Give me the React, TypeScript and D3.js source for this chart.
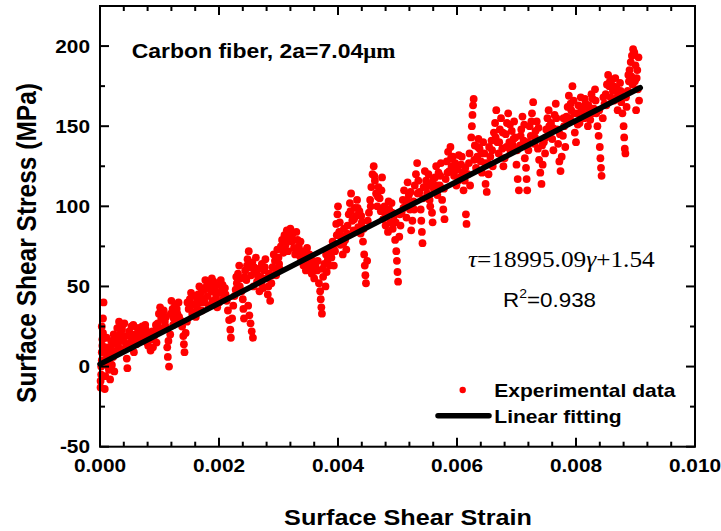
import React, { useEffect, useRef } from "react";
import * as d3 from "d3";

// experimental points: [strain in units of 1e-4, stress in MPa]
const expPoints: [number, number][] = [
  [0.1, -13], [0.1, -9], [0.2, -5], [0.2, 0], [0.3, 4], [0.3, 9], [0.4, 13], [0.4, 17], [0.5, 21], [0.5, 30], [0.6, 40],
  [0.8, -14], [0.9, -6], [0.9, 2], [1.0, 8],
  [1.2, 12], [1.3, 6], [1.5, -2], [1.6, 3], [1.7, -8], [1.8, 10], [2.0, 1], [2.1, 14], [2.2, 6], [2.4, -3], [2.5, 9],
  [2.7, 18], [2.9, 24], [3.0, 14], [3.2, 28], [3.4, 20], [3.5, 11], [3.7, 23], [3.9, 16], [4.1, 27], [4.3, 19], [4.5, 5], [4.6, -1], [4.7, 12],
  [4.9, 22], [5.1, 15], [5.3, 25], [5.5, 18], [5.7, 9], [5.9, 20], [6.1, 14], [6.3, 24],
  [6.5, 19], [6.7, 22], [6.9, 16], [7.1, 25], [7.3, 21], [7.5, 18], [7.7, 23], [7.9, 15],
  [8.1, 13], [8.3, 20], [8.5, 10], [8.7, 17], [8.9, 12], [9.1, 19], [9.3, 22], [9.5, 15],
  [9.7, 27], [9.9, 33], [10.1, 37], [10.3, 30], [10.5, 24], [10.7, 35], [10.9, 28], [11.1, 31],
  [11.3, 12], [11.4, 6], [11.6, 0], [11.5, 16], [11.8, 20],
  [12.0, 41], [12.2, 36], [12.4, 30], [12.6, 38], [12.8, 27], [13.0, 33], [13.2, 40], [13.5, 29],
  [13.8, 25], [14.0, 19], [14.1, 14], [14.2, 9], [14.4, 21], [14.6, 28],
  [14.9, 36], [15.1, 42], [15.3, 46], [15.5, 33], [15.7, 39], [15.9, 44], [16.1, 31], [16.3, 37], [16.5, 45], [16.7, 50], [16.9, 40], [17.1, 35], [17.3, 42], [17.5, 48],
  [17.7, 54], [17.9, 50], [18.1, 44], [18.3, 38], [18.5, 52], [18.7, 47], [18.9, 41], [19.1, 53], [19.3, 49], [19.5, 43], [19.7, 37], [19.9, 51], [20.1, 46], [20.3, 54], [20.5, 48], [20.7, 42],
  [21.3, 41], [21.5, 35], [21.7, 29], [21.9, 23], [22.0, 18], [22.2, 30], [22.4, 38], [22.6, 44],
  [22.8, 48], [23.0, 52], [23.2, 58], [23.4, 63], [23.6, 55], [23.8, 47], [24.0, 42], [24.1, 36], [24.2, 30], [24.4, 60], [24.6, 54], [24.8, 67],
  [24.9, 38], [25.1, 32], [25.3, 27], [25.5, 22], [25.7, 18],
  [25.0, 72], [25.2, 62], [25.4, 57], [25.6, 65], [25.8, 50], [26.0, 59], [26.2, 68], [26.4, 53], [26.6, 61], [26.8, 47],
  [27.0, 56], [27.2, 64], [27.4, 49], [27.6, 60], [27.8, 67], [28.0, 55], [28.2, 45], [28.4, 58], [28.6, 41], [28.8, 52], [29.0, 62], [29.2, 70],
  [29.4, 66], [29.6, 57], [29.8, 73], [30.0, 68], [30.2, 61], [30.4, 75], [30.6, 79], [30.8, 71], [31.0, 82], [31.2, 76], [31.4, 85], [31.6, 72],
  [31.8, 80], [32.0, 86], [32.2, 78], [32.4, 83], [32.6, 74], [32.8, 70], [33.0, 84], [33.2, 79], [33.4, 75], [33.6, 69], [33.8, 66], [34.0, 72], [34.2, 63], [34.4, 68], [34.6, 60], [34.8, 74], [35.0, 65],
  [35.4, 62], [35.6, 58], [35.8, 66], [36.0, 55], [36.2, 63], [36.5, 60], [36.8, 52], [37.0, 47], [37.1, 42], [37.2, 37], [37.3, 33], [37.5, 56], [37.7, 64], [37.9, 50], [38.1, 59], [38.3, 67], [38.5, 71],
  [38.7, 74], [38.9, 68], [39.1, 78], [39.3, 63], [39.5, 72], [39.7, 89], [39.9, 95], [40.0, 100], [40.2, 84], [40.4, 76], [40.6, 81], [40.8, 70], [41.0, 86], [41.2, 79], [41.4, 73],
  [41.6, 88], [41.8, 95], [42.0, 102], [42.2, 108], [42.4, 91], [42.6, 85], [42.8, 99], [43.0, 94], [43.2, 104], [43.4, 87], [43.6, 97], [43.8, 83], [44.0, 90], [44.2, 78], [44.4, 70], [44.5, 63], [44.6, 57], [44.7, 52], [44.9, 66],
  [45.2, 96], [45.4, 104], [45.6, 112], [45.8, 120], [46.0, 125], [46.2, 116], [46.4, 108], [46.6, 100], [46.8, 112], [47.0, 105], [47.2, 97], [47.4, 118],
  [47.6, 92], [47.8, 100], [48.0, 88], [48.2, 95], [48.4, 84], [48.6, 98], [48.8, 90], [49.0, 102], [49.2, 86], [49.4, 94], [49.6, 79], [49.8, 72], [49.9, 66], [50.0, 59], [50.1, 53], [50.3, 81],
  [50.5, 88], [50.7, 96], [50.9, 104], [51.1, 110], [51.3, 100], [51.5, 93], [51.7, 115], [51.9, 107], [52.1, 98], [52.3, 85], [52.5, 91], [52.7, 103],
  [52.9, 113], [53.1, 120], [53.3, 127], [53.5, 116], [53.7, 109], [53.9, 98], [54.0, 91], [54.1, 84], [54.2, 77], [54.4, 112], [54.6, 122],
  [54.8, 116], [55.0, 108], [55.2, 120], [55.4, 104], [55.6, 114], [55.8, 96], [55.9, 90], [56.1, 111], [56.3, 118], [56.5, 125], [56.7, 107], [56.9, 121], [57.1, 113], [57.3, 127],
  [57.5, 104], [57.7, 98], [57.9, 92], [58.1, 117], [58.3, 128], [58.5, 134], [58.7, 122], [58.9, 137], [59.1, 125], [59.3, 131], [59.5, 119], [59.7, 127], [59.9, 113], [60.1, 123], [60.3, 132], [60.5, 118], [60.7, 126], [60.9, 121], [61.1, 110],
  [61.3, 116], [61.5, 95], [61.6, 89], [61.8, 120], [62.0, 127], [62.2, 113], [62.4, 143], [62.5, 150], [62.6, 157], [62.7, 163], [62.8, 167], [63.0, 138], [63.2, 124], [63.4, 131],
  [63.6, 142], [63.8, 136], [64.0, 128], [64.2, 121], [64.4, 140], [64.6, 133], [64.8, 114], [65.0, 109], [65.2, 127], [65.4, 137], [65.6, 131], [65.8, 141], [66.0, 125],
  [66.2, 146], [66.4, 152], [66.6, 160], [66.8, 140], [67.0, 133], [67.2, 148], [67.4, 155], [67.6, 136], [67.8, 125], [68.0, 130],
  [68.2, 145], [68.4, 152], [68.6, 158], [68.8, 140], [69.0, 134], [69.2, 147], [69.4, 138], [69.6, 153], [69.8, 143], [70.0, 126], [70.2, 117], [70.4, 110], [70.6, 138],
  [70.8, 148], [71.0, 156], [71.2, 141], [71.4, 130], [71.6, 124], [71.7, 117], [71.8, 110], [72.0, 135], [72.2, 150], [72.4, 144], [72.6, 158], [72.8, 165], [73.0, 139], [73.2, 147], [73.4, 153], [73.6, 136],
  [73.8, 129], [74.0, 121], [74.2, 114], [74.4, 126], [74.6, 140], [74.8, 133], [75.0, 148],
  [75.2, 155], [75.4, 160], [75.6, 146], [75.8, 152], [76.0, 142], [76.2, 135], [76.4, 157], [76.6, 164], [76.8, 148], [77.0, 139], [77.2, 128], [77.4, 122], [77.6, 131], [77.8, 144], [78.0, 150], [78.2, 137], [78.4, 156],
  [78.6, 162], [78.8, 169], [79.0, 155], [79.2, 160], [79.4, 175], [79.6, 166], [79.8, 146], [80.0, 140], [80.2, 158], [80.4, 163], [80.6, 152], [80.8, 168],
  [81.0, 159], [81.2, 162], [81.4, 155], [81.6, 164], [81.8, 157], [82.0, 150], [82.2, 160], [82.4, 154], [82.6, 170], [82.8, 167], [83.0, 161], [83.2, 173], [83.4, 158],
  [83.6, 150], [83.8, 144], [84.0, 137], [84.1, 130], [84.2, 124], [84.3, 119], [84.5, 155], [84.8, 164], [85.0, 170], [85.2, 176],
  [85.4, 182], [85.6, 175], [85.8, 168], [86.0, 179], [86.2, 172], [86.4, 166], [86.6, 180], [86.8, 174], [87.0, 160], [87.2, 170], [87.4, 177],
  [87.6, 165], [87.8, 158], [88.0, 150], [88.1, 143], [88.2, 136], [88.3, 133], [88.5, 162], [88.7, 172],
  [88.9, 178], [89.0, 185], [89.2, 190], [89.4, 194], [89.6, 198], [89.8, 196], [90.0, 188], [90.2, 180], [90.4, 173], [90.6, 166], [89.5, 176], [90.1, 160], [90.5, 193],
  // second pass through the denser parts of the cloud
  [0.3, 25], [0.7, 11], [1.1, 18], [1.4, 0], [1.9, 16], [2.3, 20], [2.8, 10], [3.3, 17], [3.8, 26], [4.4, 14],
  [5.0, 19], [5.6, 26], [6.0, 17], [6.6, 24], [7.0, 20], [7.6, 26], [8.2, 17], [8.8, 22], [9.4, 26], [10.0, 22],
  [10.6, 31], [11.0, 25], [11.9, 33], [12.3, 26], [12.9, 36], [13.3, 31], [14.7, 40], [15.2, 38], [15.8, 34], [16.4, 41],
  [17.0, 46], [17.6, 40], [18.2, 49], [18.8, 55], [19.4, 46], [20.0, 40], [20.6, 51], [21.0, 49], [21.1, 45], [22.9, 56],
  [23.5, 50], [24.3, 56], [24.7, 63], [25.9, 62], [26.5, 57], [27.1, 52], [27.7, 62], [28.3, 50], [28.9, 57], [29.5, 61],
  [30.1, 64], [30.7, 74], [31.3, 79], [31.9, 83], [32.5, 79], [33.1, 73], [33.7, 78], [34.3, 70], [34.9, 69], [35.2, 70],
  [36.1, 60], [36.6, 66], [37.4, 61], [38.0, 70], [38.6, 63], [39.2, 74], [39.8, 82], [40.3, 90], [40.9, 77], [41.5, 83],
  [42.1, 97], [42.7, 92], [43.3, 99], [43.9, 94], [44.3, 86], [45.0, 91], [45.5, 100], [46.1, 119], [46.7, 106], [47.3, 110],
  [47.9, 96], [48.5, 103], [49.1, 96], [49.7, 90], [50.4, 95], [51.0, 99], [51.6, 104], [52.2, 109], [52.8, 98], [53.4, 108],
  [54.3, 105], [54.9, 112], [55.5, 100], [56.0, 117], [56.6, 113], [57.2, 119], [57.8, 111], [58.4, 121], [59.0, 130], [59.6, 122],
  [60.2, 116], [60.8, 131], [61.4, 124], [62.1, 133], [62.9, 129], [63.5, 137], [64.1, 133], [64.7, 127], [65.3, 120], [65.9, 135],
  [66.5, 143], [67.1, 140], [67.7, 146], [68.3, 137], [68.9, 151], [69.5, 142], [70.1, 135], [70.7, 144], [71.3, 151], [71.9, 140],
  [72.5, 153], [73.1, 143], [73.7, 149], [74.3, 138], [74.9, 143], [75.5, 150], [76.1, 149], [76.7, 155], [77.3, 145], [77.9, 155],
  [78.5, 152], [79.1, 164], [79.7, 158], [80.3, 151], [80.9, 161], [81.5, 167], [82.1, 163], [82.7, 158], [83.3, 166], [83.9, 160],
  [84.6, 168], [85.1, 163], [85.7, 178], [86.3, 175], [86.9, 168], [87.5, 172], [88.4, 168], [88.8, 182], [89.3, 181], [89.9, 178], [90.3, 185],
];
const strainUnit = 1e-4;

const fitSlope = 18995.09;
const fitIntercept = 1.54;
const fitStrain = [0, 0.00908];

const xTicks = [0, 0.002, 0.004, 0.006, 0.008, 0.01];
const xTickLabels = ["0.000", "0.002", "0.004", "0.006", "0.008", "0.010"];
const yTicks = [-50, 0, 50, 100, 150, 200];
const yTickLabels = ["-50", "0", "50", "100", "150", "200"];
const xMinorStep = 0.0004;
const yMinorStep = 25;

const W = 721, H = 531;
const SX = 1.12; // the original figure is a bit wider than tall
const ARIAL = "'Liberation Sans', Arial, sans-serif";
const TIMES = "'Liberation Serif', 'Times New Roman', serif";

export default function App() {
  const ref = useRef<SVGSVGElement>(null);

  useEffect(() => {
    const svg = d3.select(ref.current);
    svg.selectAll("*").remove();

    const left = 100, right = 695, top = 6, bottom = 446.7;
    const x = d3.scaleLinear().domain([0, 0.01]).range([left, right]);
    const y = d3.scaleLinear().domain([-50, 225]).range([bottom, top]);

    const txt = (px: number, py: number, s: string, size: number, opts: any = {}) =>
      svg.append("text")
        .attr("transform", `translate(${px},${py}) scale(${SX},1)` + (opts.rotate ? " rotate(-90)" : ""))
        .attr("text-anchor", opts.anchor || "start")
        .attr("font-family", opts.family || ARIAL)
        .attr("font-weight", opts.weight || "bold")
        .attr("font-size", size)
        .attr("fill", "#000")
        .text(s);

    // points
    svg.append("g")
      .selectAll("circle")
      .data(expPoints)
      .join("circle")
      .attr("cx", d => x(d[0] * strainUnit))
      .attr("cy", d => y(d[1]))
      .attr("r", 3.9)
      .attr("fill", "#ff0000");

    // linear fit
    const line = d3.line<number>().x(d => x(d)).y(d => y(fitSlope * d + fitIntercept));
    svg.append("path")
      .attr("d", line(fitStrain))
      .attr("fill", "none")
      .attr("stroke", "#000")
      .attr("stroke-width", 5.5)
      .attr("stroke-linecap", "round");

    // frame
    svg.append("rect")
      .attr("x", left).attr("y", top)
      .attr("width", right - left).attr("height", bottom - top)
      .attr("fill", "none").attr("stroke", "#000").attr("stroke-width", 2);

    // ticks, inward on all four sides
    const ticks = svg.append("g").attr("stroke", "#000").attr("stroke-width", 2);
    const xMinor = d3.range(0, 0.01 + 1e-9, xMinorStep);
    xMinor.forEach(v => {
      const major = xTicks.some(t => Math.abs(t - v) < 1e-9);
      const len = major ? 9 : 5;
      ticks.append("line").attr("x1", x(v)).attr("x2", x(v)).attr("y1", bottom).attr("y2", bottom - len);
      ticks.append("line").attr("x1", x(v)).attr("x2", x(v)).attr("y1", top).attr("y2", top + len);
    });
    const yMinor = d3.range(-50, 225 + 1e-9, yMinorStep);
    yMinor.forEach(v => {
      const major = yTicks.includes(v);
      const len = major ? 9 : 5;
      ticks.append("line").attr("x1", left).attr("x2", left + len).attr("y1", y(v)).attr("y2", y(v));
      ticks.append("line").attr("x1", right).attr("x2", right - len).attr("y1", y(v)).attr("y2", y(v));
    });

    // tick labels
    xTicks.forEach((t, i) => txt(x(t), 471.7, xTickLabels[i], 18.6, { anchor: "middle" }));
    yTicks.forEach((t, i) => txt(90, y(t) + 6.7, yTickLabels[i], 18.6, { anchor: "end" }));

    // axis titles
    txt(408, 525, "Surface Shear Strain", 22.5, { anchor: "middle" });
    txt(36, 243, "Surface Shear Stress (MPa)", 24.5, { anchor: "middle", rotate: true });

    // fiber label
    const lab = txt(131.7, 58, "Carbon fiber, 2a=7.04", 20.5);
    lab.append("tspan").attr("font-family", TIMES).text("\u03bcm");

    // equation
    const eq = txt(468, 266.7, "", 22.6, { family: TIMES, weight: "normal" });
    eq.append("tspan").attr("font-style", "italic").text("\u03c4");
    eq.append("tspan").text("=18995.09");
    eq.append("tspan").attr("font-style", "italic").text("\u03b3");
    eq.append("tspan").text("+1.54");

    const r2 = txt(503, 307, "", 20, { weight: "normal" });
    r2.append("tspan").text("R");
    r2.append("tspan").attr("font-size", 12.5).attr("dy", -9).text("2");
    r2.append("tspan").attr("dy", 9).text("=0.938");

    // legend
    svg.append("circle").attr("cx", 462.7).attr("cy", 390).attr("r", 3.2).attr("fill", "#ff0000");
    txt(494.3, 396.7, "Experimental data", 18.8);
    svg.append("line")
      .attr("x1", 438).attr("x2", 489).attr("y1", 415.7).attr("y2", 415.7)
      .attr("stroke", "#000").attr("stroke-width", 5.5).attr("stroke-linecap", "round");
    txt(494.3, 423.3, "Linear fitting", 18.8);
  }, []);

  return (
    <svg
      ref={ref}
      width={W}
      height={H}
      style={{ position: "absolute", left: 0, top: 0, background: "#fff", display: "block" }}
    />
  );
}
